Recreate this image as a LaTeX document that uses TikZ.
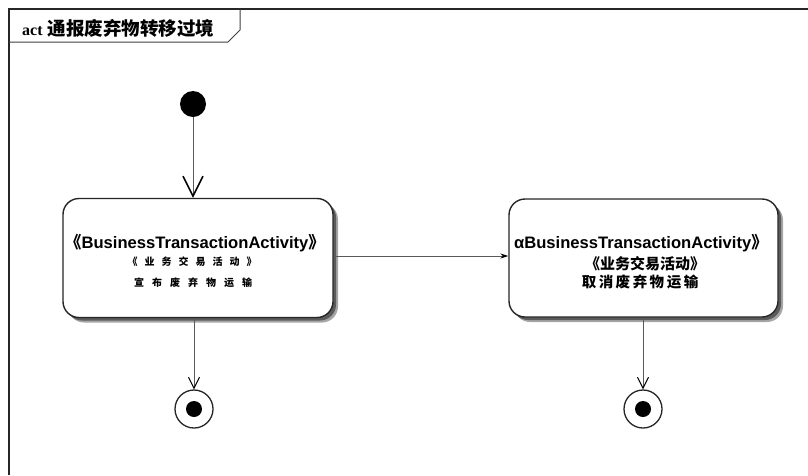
\documentclass[tikz,border=0pt]{standalone}
\usepackage{fontspec}
\setmainfont{Liberation Sans}
\newfontfamily\cjk{Noto Sans CJK SC}[BoldFont={Noto Sans CJK SC Black}]
\newfontfamily\serifb{Liberation Serif}
\usetikzlibrary{arrows.meta,shadows}
\begin{document}
\begin{tikzpicture}[x=1pt,y=-1pt,
  actbox/.style={draw=black!85, line width=1.4pt, rounded corners=16pt, fill=white,
    minimum width=270pt, minimum height=119pt, inner sep=0pt,
    drop shadow={shadow xshift=5pt, shadow yshift=-5pt, opacity=0.35, fill=black},
    drop shadow={shadow xshift=3pt, shadow yshift=-3pt, opacity=0.45, fill=black}},
  flow/.style={draw=black!65, line width=0.9pt},
  lbl/.style={inner sep=0pt, font=\bfseries, align=center}]
\useasboundingbox (0,0) rectangle (808,475);
\fill[white] (0,0) rectangle (808,475);
% frame
\draw[black!85, line width=1.8pt] (9,475) -- (9,9) -- (808,9);
\draw[black!75, line width=1pt] (9,42) -- (228,42) -- (240,30) -- (240,9);
\node[lbl, anchor=west] (title) at (22,28) {{\serifb\bfseries\fontsize{16}{18}\selectfont act}\hspace{5pt}{\cjk\bfseries\fontsize{18.5}{20}\selectfont 通报废弃物转移过境}};
% nodes
\node[circle, fill=black, minimum size=26pt, inner sep=0pt] (init) at (193,104) {};
\node[actbox] (b1) at (198,258) {};
\node[actbox, minimum width=269pt, minimum height=118pt] (b2) at (643.5,258) {};
\node[lbl, font=\bfseries\fontsize{16.6}{18}\selectfont] (t11) at (195,243) {{\cjk\bfseries 《}BusinessTransactionActivity{\cjk\bfseries 》}};
\node[lbl] (t12) at (192,262) {\cjk\bfseries\fontsize{10}{12}\selectfont 《\hspace{7pt}业\hspace{7pt}务\hspace{7pt}交\hspace{7pt}易\hspace{7pt}活\hspace{7pt}动\hspace{7pt}》};
\node[lbl] (t13) at (193,283) {\cjk\bfseries\fontsize{10}{12}\selectfont 宣\hspace{8pt}布\hspace{8pt}废\hspace{8pt}弃\hspace{8pt}物\hspace{8pt}运\hspace{8pt}输};
\node[lbl, font=\bfseries\fontsize{16.6}{18}\selectfont] (t21) at (641,243) {αBusinessTransactionActivity{\cjk\bfseries 》}};
\node[lbl] (t22) at (645,264) {\cjk\bfseries\fontsize{15}{17}\selectfont 《业务交易活动》};
\node[lbl] (t23) at (640,282) {\cjk\bfseries\fontsize{14.5}{16}\selectfont 取\hspace{2.5pt}消\hspace{2.5pt}废\hspace{2.5pt}弃\hspace{2.5pt}物\hspace{2.5pt}运\hspace{2.5pt}输};
\node[circle, draw=black!85, line width=1.3pt, minimum size=38pt, inner sep=0pt] (f1) at (194,409) {};
\fill[black] (f1.center) circle (8pt);
\node[circle, draw=black!85, line width=1.3pt, minimum size=38pt, inner sep=0pt] (f2) at (643,409) {};
\fill[black] (f2.center) circle (8pt);
% connectors
\draw[flow, -{Straight Barb[length=20pt,width=20pt,line width=1.5pt,black]}] (init) -- (init |- b1.north);
\draw[flow, -{Stealth[length=8pt,width=5pt,black]}] (b1.east |- 0,256) coordinate (c1) -- (b2.west |- c1);
\draw[flow, -{Straight Barb[length=11pt,width=11pt,line width=1pt,black]}] (b1.south -| f1) -- (f1.north);
\draw[flow, -{Straight Barb[length=11pt,width=11pt,line width=1pt,black]}] (b2.south -| f2) -- (f2.north);
\end{tikzpicture}
\end{document}
